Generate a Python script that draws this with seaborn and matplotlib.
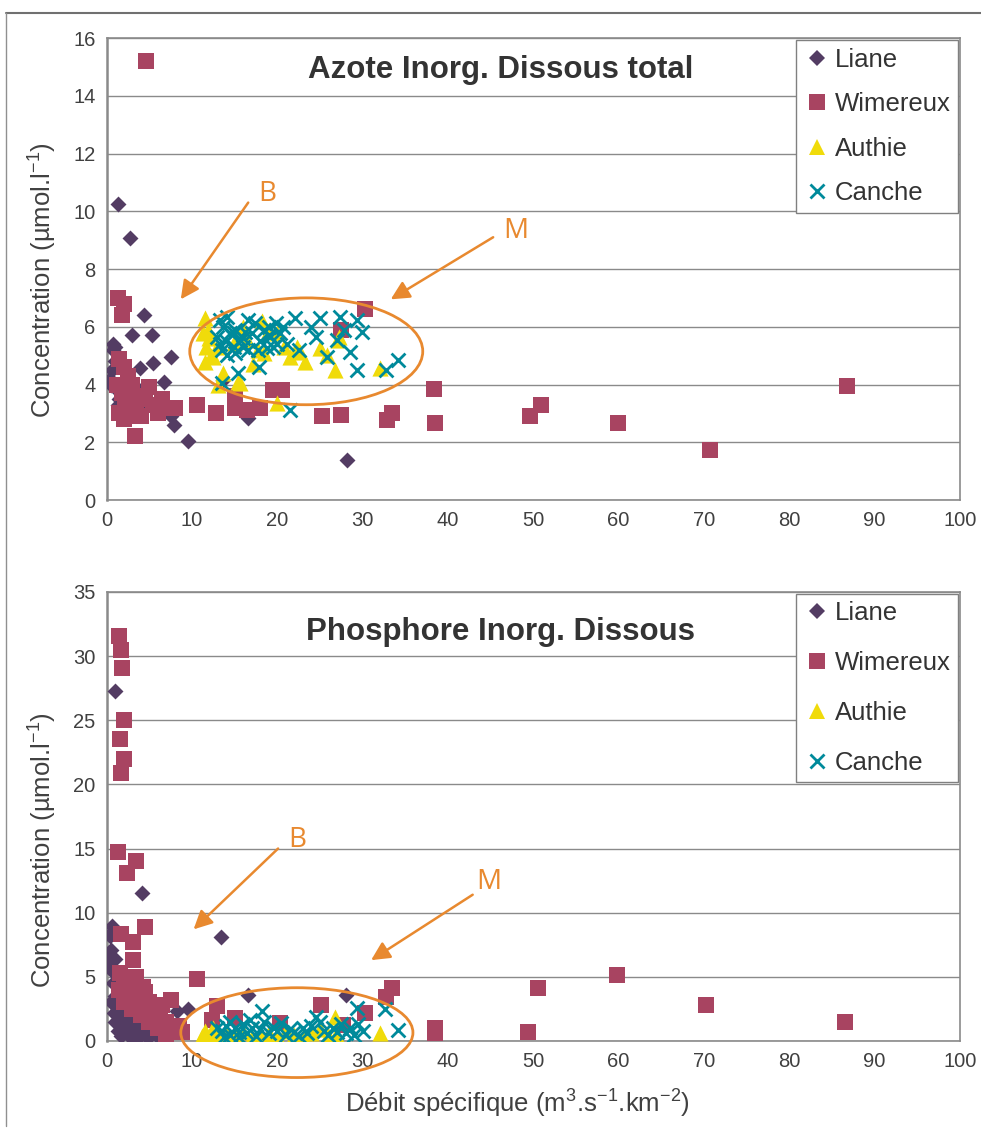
import matplotlib
matplotlib.use("Agg")
import matplotlib.pyplot as plt
from matplotlib.patches import Ellipse
from matplotlib.lines import Line2D
import seaborn as sns
import pandas as pd

# ---------------- DATA ----------------
series_names = ["Liane", "Wimereux", "Authie", "Canche"]
x_ticks = [0, 10, 20, 30, 40, 50, 60, 70, 80, 90, 100]
y_ticks_n = [0, 2, 4, 6, 8, 10, 12, 14, 16]
y_ticks_p = [0, 5, 10, 15, 20, 25, 30, 35]

title_n = "Azote Inorg. Dissous total"
title_p = "Phosphore Inorg. Dissous"
ylabel = "Concentration (µmol.l$^{-1}$)"
xlabel = "Débit spécifique (m$^{3}$.s$^{-1}$.km$^{-2}$)"

# Nitrogen panel
n_liane_x = [1.4, 2.7, 4.4, 3.0, 5.3, 7.6, 5.5, 0.7, 6.7, 7.9, 9.5, 28.2, 16.6, 3.9, 13.6,
             0.5, 0.6, 0.8, 1.0, 1.2, 1.5, 2.0, 0.4, 1.0, 2.5, 3.5, 4.5, 6.0, 7.5, 1.3]
n_liane_y = [10.25, 9.07, 6.4, 5.7, 5.7, 4.95, 4.74, 5.4, 4.1, 2.6, 2.05, 1.38, 2.85, 4.57, 4.15,
             4.0, 4.5, 5.2, 5.3, 3.8, 3.5, 3.3, 4.2, 4.8, 3.6, 3.9, 3.2, 3.3, 2.9, 3.3]

n_wim_x = [4.6, 1.4, 2.0, 1.8, 30.3, 27.5, 1.5, 2.0, 2.5, 1.2, 1.8, 2.2, 3.0, 3.5, 4.0, 1.5,
           2.5, 3.0, 4.5, 5.0, 5.5, 6.0, 6.5, 7.0, 8.0, 4.0, 2.0, 3.3, 10.6, 12.8, 15.1, 15.1,
           16.5, 18.0, 19.5, 20.6, 25.2, 27.5, 33.4, 32.9, 38.4, 38.5, 49.6, 50.9, 59.9, 70.7, 86.8]
n_wim_y = [15.2, 7.0, 6.8, 6.4, 6.6, 5.9, 4.9, 4.6, 4.3, 4.0, 3.7, 3.4, 3.8, 3.2, 3.5, 3.0,
           2.9, 4.0, 3.6, 3.9, 3.3, 3.0, 3.5, 3.2, 3.2, 2.9, 2.8, 2.2, 3.3, 3.0, 3.6, 3.2,
           3.1, 3.2, 3.8, 3.8, 2.9, 2.94, 3.0, 2.77, 3.86, 2.65, 2.9, 3.28, 2.68, 1.72, 3.95]

n_aut_x = [11.5, 11.3, 11.7, 11.5, 13.1, 13.7, 15.4, 12.5, 17.2, 18.4, 18.2, 20.0, 21.5, 23.3,
           25.0, 25.8, 26.8, 27.2, 32.0, 14.9, 16.4, 20.0, 20.8, 22.3, 12.0, 12.2, 11.9, 13.0,
           15.6, 22.7, 27.1, 16.0, 19.0, 17.8]
n_aut_y = [6.29, 5.77, 5.31, 4.79, 4.0, 4.39, 4.1, 4.96, 4.7, 5.08, 6.2, 3.35, 4.96, 4.79,
           5.25, 5.02, 4.5, 5.66, 4.56, 5.43, 5.54, 5.77, 5.31, 5.31, 5.6, 5.0, 5.9, 5.3,
           4.05, 5.13, 5.54, 6.0, 5.9, 5.2]

n_can_x = [14.1, 13.7, 14.5, 13.3, 14.9, 15.6, 14.1, 15.4, 17.9, 17.4, 18.4, 19.1, 19.9, 20.3,
           21.1, 22.1, 22.5, 24.0, 25.0, 24.6, 25.8, 27.4, 27.0, 28.5, 29.3, 29.9, 29.3, 32.8,
           34.2, 21.5, 16.6, 12.9, 16.6, 18.8, 19.5, 16.2, 13.5, 14.9, 13.3, 17.8, 20.7, 27.8,
           14.0, 15.0, 16.0, 17.0, 18.0, 19.0, 20.0, 15.0, 13.5, 16.0, 19.0]
n_can_y = [6.35, 6.0, 5.77, 5.42, 5.31, 5.54, 5.02, 4.39, 4.62, 6.12, 5.89, 5.66, 6.12, 5.77,
           5.42, 6.29, 5.2, 6.0, 6.29, 5.66, 4.96, 6.35, 5.54, 5.14, 6.23, 5.83, 4.5, 4.5,
           4.85, 3.12, 6.23, 5.66, 5.2, 5.25, 5.31, 5.83, 4.05, 5.77, 6.23, 5.2, 6.0, 5.89,
           5.5, 5.9, 5.6, 5.8, 5.5, 6.0, 5.4, 5.1, 5.2, 5.3, 5.7]

# Phosphorus panel
p_liane_x = [1.0, 4.2, 13.4, 0.6, 0.4, 0.5, 1.0, 0.3, 16.6, 28.1, 9.5, 8.2, 0.5, 0.7, 1.0,
             1.2, 1.5, 1.8, 2.0, 2.5, 3.0, 3.5, 4.0, 4.5, 5.0, 5.5, 6.0, 1.0, 2.2, 3.0, 4.2,
             5.5, 6.5, 1.5, 0.5, 3.8, 2.8, 0.8, 0.3, 1.3, 2.3, 3.3, 4.3, 5.2, 6.3, 7.2, 2.7,
             1.7, 3.6, 4.8, 0.9]
p_liane_y = [27.3, 11.5, 8.1, 9.0, 8.2, 7.1, 6.4, 5.8, 3.6, 3.6, 2.5, 2.3, 5.5, 4.5, 3.5,
             2.8, 2.0, 1.5, 1.0, 0.5, 0.3, 0.8, 0.5, 1.2, 0.4, 0.7, 0.3, 1.5, 2.5, 1.8, 2.2,
             2.0, 2.5, 4.0, 3.0, 1.2, 1.0, 8.6, 6.6, 0.8, 1.4, 0.2, 1.6, 1.0, 1.4, 0.6, 2.0,
             0.4, 2.6, 0.2, 2.2]

p_wim_x = [1.5, 1.7, 1.8, 2.05, 1.6, 2.05, 1.7, 1.4, 3.5, 2.4, 4.5, 1.7, 3.1, 3.1, 1.6, 10.6,
           4.3, 7.6, 2.6, 5.7, 6.3, 7.6, 12.9, 12.3, 15.0, 25.1, 27.7, 30.3, 33.4, 32.8, 38.5,
           38.5, 49.4, 50.6, 59.8, 70.2, 86.5, 20.3, 2.0, 2.5, 3.0, 3.5, 4.5, 5.0, 5.5, 6.0,
           6.5, 7.0, 8.0, 8.5, 3.0, 4.0, 5.0, 6.0, 2.0, 3.5, 2.8, 4.0, 1.5, 7.0, 8.9]
p_wim_y = [31.6, 30.5, 29.1, 25.0, 23.5, 22.0, 20.9, 14.7, 14.0, 13.1, 8.9, 8.3, 7.7, 6.3, 5.3, 4.8,
           4.2, 3.2, 3.2, 2.7, 1.64, 1.1, 2.7, 1.6, 1.77, 2.8, 1.25, 2.2, 4.1, 3.45, 1.0,
           0.6, 0.73, 4.1, 5.15, 2.8, 1.5, 1.4, 4.5, 4.0, 3.5, 3.0, 3.8, 3.0, 2.2, 2.0,
           2.8, 1.5, 1.0, 1.2, 2.5, 2.0, 1.5, 1.0, 3.0, 5.0, 3.8, 3.3, 4.0, 0.5, 0.7]

p_aut_x = [11.2, 11.5, 12.0, 13.0, 14.0, 15.0, 16.0, 17.0, 18.0, 19.0, 20.0, 21.0, 22.0, 23.0,
           24.0, 25.0, 26.0, 26.8, 27.0, 32.0, 12.5, 18.9, 26.8]
p_aut_y = [0.4, 0.8, 0.3, 0.5, 0.6, 0.4, 0.7, 0.3, 0.5, 0.6, 0.4, 0.8, 0.5, 0.3,
           0.6, 0.9, 0.5, 1.9, 0.4, 0.6, 1.0, 0.45, 0.3]

p_can_x = [13.5, 14.0, 14.5, 15.0, 15.5, 16.0, 16.5, 17.0, 17.5, 18.0, 18.2, 18.5, 19.0, 19.5,
           20.0, 20.5, 21.0, 21.5, 22.0, 22.5, 23.0, 23.5, 24.0, 24.5, 25.0, 25.5, 26.0, 26.5,
           27.0, 27.5, 28.0, 28.5, 29.0, 29.3, 30.0, 32.6, 34.2, 13.0, 14.5, 15.5, 16.8, 13.8,
           29.5]
p_can_y = [0.8, 1.2, 0.5, 1.0, 0.7, 1.3, 0.6, 1.0, 0.4, 0.9, 2.3, 1.5, 0.6, 1.1,
           0.8, 1.4, 0.5, 0.9, 0.7, 0.4, 1.0, 0.6, 1.2, 1.9, 1.5, 0.8, 0.5, 1.0,
           0.7, 1.3, 0.6, 1.0, 0.5, 2.6, 0.8, 2.5, 0.85, 1.0, 1.5, 0.3, 1.6, 0.3,
           1.3]

# ---------------- STYLE ----------------
sns.set_style("white")
plt.rcParams["font.family"] = ["Liberation Sans", "DejaVu Sans"]
plt.rcParams["mathtext.default"] = "regular"

colors = {"Liane": "#533C63", "Wimereux": "#A84461", "Authie": "#F0DB0A", "Canche": "#008A9B"}
markers = {"Liane": "D", "Wimereux": "s", "Authie": "^", "Canche": "x"}
sizes = {"Liane": 66, "Wimereux": 140, "Authie": 135, "Canche": 100}
ORANGE = "#E8892F"
GRID = "#8A8A8A"
TXT = "#404040"

fig = plt.figure(figsize=(9.81, 11.31), dpi=100)
ax1 = fig.add_axes([0.1086, 0.5579, 0.8700, 0.4085])
ax2 = fig.add_axes([0.1086, 0.0796, 0.8700, 0.3970])

# figure frame lines
fig.add_artist(Line2D([0.006, 1.0], [0.9885, 0.9885], transform=fig.transFigure, color="#707070", lw=1.5))
fig.add_artist(Line2D([0.006, 0.006], [0.9885, 0.004], transform=fig.transFigure, color="#909090", lw=1.0))

panels = [
    (ax1, {"Liane": (n_liane_x, n_liane_y), "Wimereux": (n_wim_x, n_wim_y),
           "Authie": (n_aut_x, n_aut_y), "Canche": (n_can_x, n_can_y)},
     title_n, y_ticks_n, 16, 0.93, 0.80, 0.476),
    (ax2, {"Liane": (p_liane_x, p_liane_y), "Wimereux": (p_wim_x, p_wim_y),
           "Authie": (p_aut_x, p_aut_y), "Canche": (p_can_x, p_can_y)},
     title_p, y_ticks_p, 35, 0.91, 1.0, 0.425),
]

for ax, data, title, yt, ymax, ty, lspace, ylab_y in panels:
    for z, name in enumerate(series_names):
        xs, ys = data[name]
        df = pd.DataFrame({"x": xs, "y": ys})
        if markers[name] == "x":
            sns.scatterplot(data=df, x="x", y="y", ax=ax, marker="x", color=colors[name],
                            s=sizes[name], linewidth=2.0, legend=False, zorder=3 + z)
        else:
            sns.scatterplot(data=df, x="x", y="y", ax=ax, marker=markers[name], color=colors[name],
                            s=sizes[name], linewidth=0, legend=False, zorder=3 + z)
    ax.set_xlim(0, 100)
    ax.set_ylim(0, ymax)
    ax.set_xticks(x_ticks)
    ax.set_yticks(yt)
    ax.yaxis.grid(True, color=GRID, lw=1.0)
    ax.xaxis.grid(False)
    ax.set_axisbelow(True)
    for sp in ax.spines.values():
        sp.set_color(GRID)
        sp.set_linewidth(1.2)
    ax.spines["left"].set_linewidth(1.8)
    ax.tick_params(axis="both", which="major", direction="out", length=5, width=1,
                   color=GRID, labelsize=14.5, labelcolor=TXT, pad=3)
    ax.set_ylabel(ylabel, fontsize=18.5, color=TXT, labelpad=10)
    ax.yaxis.label.set_y(ylab_y)
    ax.set_xlabel("")
    ax.text(0.462, ty, title, transform=ax.transAxes, ha="center", va="center",
            fontsize=22.5, fontweight="bold", color="#333333")
    handles = [Line2D([], [], linestyle="none", marker=markers[n], color=colors[n],
                      markersize={"Liane": 8.5, "Wimereux": 11.5, "Authie": 11.5, "Canche": 10}[n],
                      markeredgewidth=2 if n == "Canche" else 0)
               for n in series_names]
    leg = ax.legend(handles, series_names, loc="upper right", bbox_to_anchor=(0.998, 0.996),
                    frameon=True, fancybox=False, edgecolor="#808080", framealpha=1,
                    fontsize=18.5, borderpad=0.3, labelspacing=lspace, handletextpad=0.2,
                    handlelength=1.0, borderaxespad=0)
    leg.get_frame().set_linewidth(1.0)
    for t in leg.get_texts():
        t.set_color("#333333")

ax2.set_xlabel(xlabel, fontsize=18.5, color=TXT, labelpad=12)
ax2.xaxis.label.set_x(0.481)

# ---------------- annotations ----------------
def mark(ax, letter, tx, ty, ax_from, ay_from, ax_to, ay_to):
    ax.annotate("", xy=(ax_to, ay_to), xytext=(ax_from, ay_from),
                arrowprops=dict(arrowstyle="-|>", color=ORANGE, lw=1.8, mutation_scale=28,
                                shrinkA=0, shrinkB=0), zorder=10)
    ax.text(tx, ty, letter, color=ORANGE, fontsize=20, ha="center", va="center", zorder=10,
            family=["Open Sans", "DejaVu Sans"])

mark(ax1, "B", 18.8, 10.6, 16.6, 10.3, 8.7, 6.95)
mark(ax1, "M", 48.0, 9.3, 45.3, 9.1, 33.3, 6.95)
ax1.add_patch(Ellipse((23.4, 5.15), 27.3, 3.7, fill=False, edgecolor=ORANGE, lw=2.0, zorder=9))

mark(ax2, "B", 22.4, 15.7, 20.1, 15.0, 10.2, 8.7)
mark(ax2, "M", 44.8, 12.4, 42.9, 11.4, 31.0, 6.3)
ax2.add_patch(Ellipse((22.3, 0.65), 27.2, 7.0, fill=False, edgecolor=ORANGE, lw=2.0,
                      zorder=9, clip_on=False))

fig.savefig("out.png", dpi=100)
